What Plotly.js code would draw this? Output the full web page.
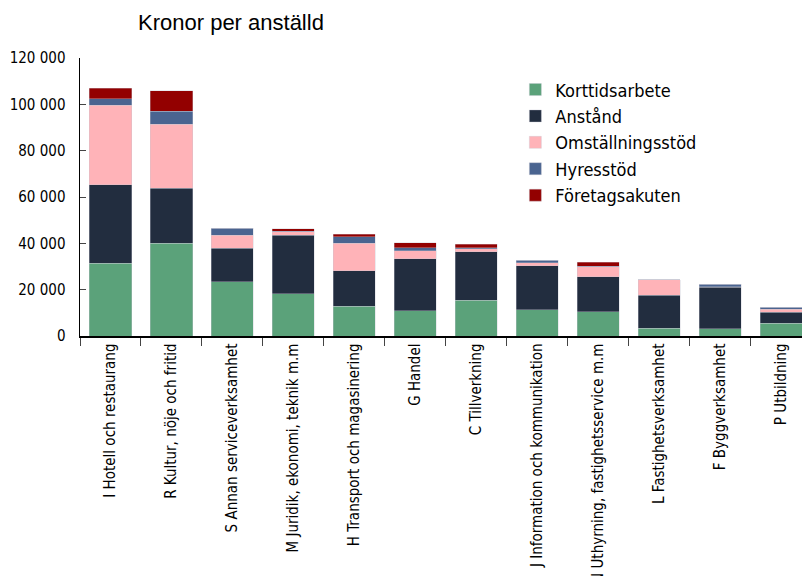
<!DOCTYPE html>
<html>
<head>
<meta charset="utf-8">
<script src="https://cdn.plot.ly/plotly-3.0.1.min.js"></script>
<style>
  body { margin: 0; background: #fff; }
  #chart { width: 802px; height: 576px; }
</style>
</head>
<body>
<div id="chart"></div>
<script>
const categories = [
  'I Hotell och restaurang',
  'R Kultur, nöje och fritid',
  'S Annan serviceverksamhet',
  'M Juridik, ekonomi, teknik m.m',
  'H Transport och magasinering',
  'G Handel',
  'C Tillverkning',
  'J Information och kommunikation',
  'N Uthyrning, fastighetsservice m.m',
  'L Fastighetsverksamhet',
  'F Byggverksamhet',
  'P Utbildning'
];

const korttidsarbete = [31400, 40000, 23450, 18300, 12950, 10800, 15500, 11350, 10400, 3450, 3150, 5600];
const anstand = [33800, 23750, 14400, 25200, 15250, 22600, 20900, 19000, 15200, 14250, 17850, 4600];
const omstallningsstod = [34500, 27750, 5600, 1500, 11800, 3400, 1300, 1300, 4300, 6500, 200, 1300];
const hyresstod = [2700, 5600, 3050, 300, 2900, 1300, 300, 1150, 300, 0, 1100, 900];
const foretagsakuten = [4500, 8700, 0, 1000, 1000, 2200, 1600, 0, 1600, 0, 0, 0];

const narrow = '"DejaVu Sans Condensed", "Liberation Sans Narrow", sans-serif';

function series(name, values, color) {
  return {
    type: 'bar',
    name: name,
    x: categories,
    y: values,
    marker: { color: color, line: { color: 'rgba(200,200,210,0.6)', width: 0.6 } },
    hoverinfo: 'skip'
  };
}

const data = [
  series('Korttidsarbete', korttidsarbete, '#5ba27a'),
  series('Anstånd', anstand, '#222d3f'),
  series('Omställningsstöd', omstallningsstod, '#ffb3b8'),
  series('Hyresstöd', hyresstod, '#4a6490'),
  series('Företagsakuten', foretagsakuten, '#930000')
];

const layout = {
  width: 802,
  height: 576,
  barmode: 'stack',
  bargap: 0.31,
  separators: ', ',
  paper_bgcolor: '#fff',
  plot_bgcolor: '#fff',
  margin: { l: 80, r: 0, t: 58, b: 240 },
  title: {
    text: 'Kronor per anställd',
    font: { family: '"Liberation Sans", Arial, sans-serif', size: 22, color: '#000' },
    x: 138 / 802,
    xanchor: 'left',
    y: 1 - 22 / 576,
    yanchor: 'middle'
  },
  showlegend: true,
  legend: {
    x: 0.603,
    y: 0.952,
    xanchor: 'left',
    yanchor: 'top',
    traceorder: 'normal',
    font: { family: narrow, size: 18, color: '#000' },
    bgcolor: 'rgba(0,0,0,0)',
    itemwidth: 30,
    tracegroupgap: 0
  },
  xaxis: {
    type: 'category',
    range: [-0.5, 11.34],
    showline: true,
    linecolor: '#000',
    linewidth: 1.5,
    ticks: 'outside',
    tickson: 'boundaries',
    ticklen: 8,
    tickcolor: '#444',
    tickangle: -90,
    tickfont: { family: narrow, size: 15, color: '#000' },
    showgrid: false,
    zeroline: false
  },
  yaxis: {
    range: [0, 120000],
    dtick: 20000,
    tickformat: ',d',
    showline: true,
    linecolor: '#000',
    linewidth: 1.5,
    ticks: 'inside',
    ticklen: 6,
    tickcolor: '#444',
    ticklabelstandoff: 10,
    tickfont: { family: narrow, size: 15, color: '#000' },
    showgrid: false,
    zeroline: false
  }
};

Plotly.newPlot('chart', data, layout, { displayModeBar: false, staticPlot: true });
</script>
</body>
</html>
